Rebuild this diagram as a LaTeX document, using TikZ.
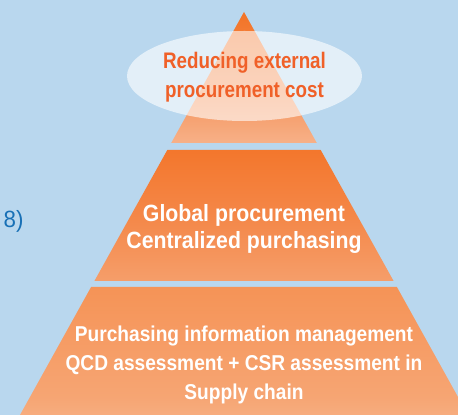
\documentclass[tikz,border=0pt]{standalone}
\usepackage{fontspec}
\setmainfont{Liberation Sans}
\usetikzlibrary{shapes.geometric}
\definecolor{bgblue}{RGB}{185,215,238}
\definecolor{orD}{RGB}{243,112,33}
\definecolor{orB}{RGB}{245,137,70}
\definecolor{txtor}{RGB}{240,96,40}
\definecolor{txtblue}{RGB}{24,112,182}
\pgfdeclareverticalshading{tipshade}{100bp}{color(0bp)=(rgb,255:red,252;green,222;blue,205); color(15bp)=(rgb,255:red,248;green,192;blue,160); color(42bp)=(rgb,255:red,245;green,150;blue,95); color(78bp)=(orD); color(100bp)=(orD)}
\pgfdeclareverticalshading{midshade}{100bp}{color(0bp)=(rgb,255:red,249;green,198;blue,165); color(16bp)=(rgb,255:red,246;green,166;blue,118); color(50bp)=(rgb,255:red,244;green,135;blue,72); color(85bp)=(orD); color(100bp)=(orD)}
\pgfdeclareverticalshading{baseshade}{100bp}{color(0bp)=(rgb,255:red,249;green,200;blue,168); color(32bp)=(rgb,255:red,246;green,165;blue,115); color(100bp)=(orB)}
\tikzset{
  lbl/.style={anchor=base, inner sep=0pt},
  toptxt/.style={lbl, text=txtor, font=\bfseries\fontsize{22.5}{27}\selectfont},
  midtxt/.style={lbl, text=white, font=\bfseries\fontsize{23.5}{28}\selectfont},
  bottxt/.style={lbl, text=white, font=\bfseries\fontsize{21.5}{26}\selectfont},
}
\begin{document}
\begin{tikzpicture}[x=1pt,y=1pt]
\useasboundingbox (0,0) rectangle (458,415);
\clip (0,0) rectangle (458,415);
\fill[bgblue] (0,0) rectangle (458,415);
% layers (y = 415 - image y)
\shade[shading=baseshade] (91.1,128) -- (396.9,128) -- (468,0) -- (20,0) -- cycle;
\shade[shading=midshade] (167.3,265) -- (320.7,265) -- (393.6,134) -- (94.4,134) -- cycle;
\shade[shading=tipshade] (244,403) -- (316.8,272) -- (171.2,272) -- cycle;
\node[ellipse, fill=white, fill opacity=0.6, minimum width=235, minimum height=90, inner sep=0pt] (cap) at (244.5,339) {};
% texts
\node[toptxt] (t1) at (244.5,346.7) {\scalebox{0.835}[1]{Reducing external}};
\node[toptxt] (t2) at (244.5,317.3) {\scalebox{0.835}[1]{procurement cost}};
\node[midtxt] (m1) at (244,193.3) {\scalebox{0.905}[1]{Global procurement}};
\node[midtxt] (m2) at (244,166.7) {\scalebox{0.905}[1]{Centralized purchasing}};
\node[bottxt] (b1) at (244,73.3) {\scalebox{0.89}[1]{Purchasing information management}};
\node[bottxt] (b2) at (244,44.3) {\scalebox{0.89}[1]{QCD assessment + CSR assessment in}};
\node[bottxt] (b3) at (244,15.7) {\scalebox{0.89}[1]{Supply chain}};
\node[anchor=base west, inner sep=0pt, text=txtblue, font=\fontsize{23.5}{27}\selectfont] (n8) at (3.5,187.5) {\scalebox{0.95}[1]{8)}};
\end{tikzpicture}
\end{document}
